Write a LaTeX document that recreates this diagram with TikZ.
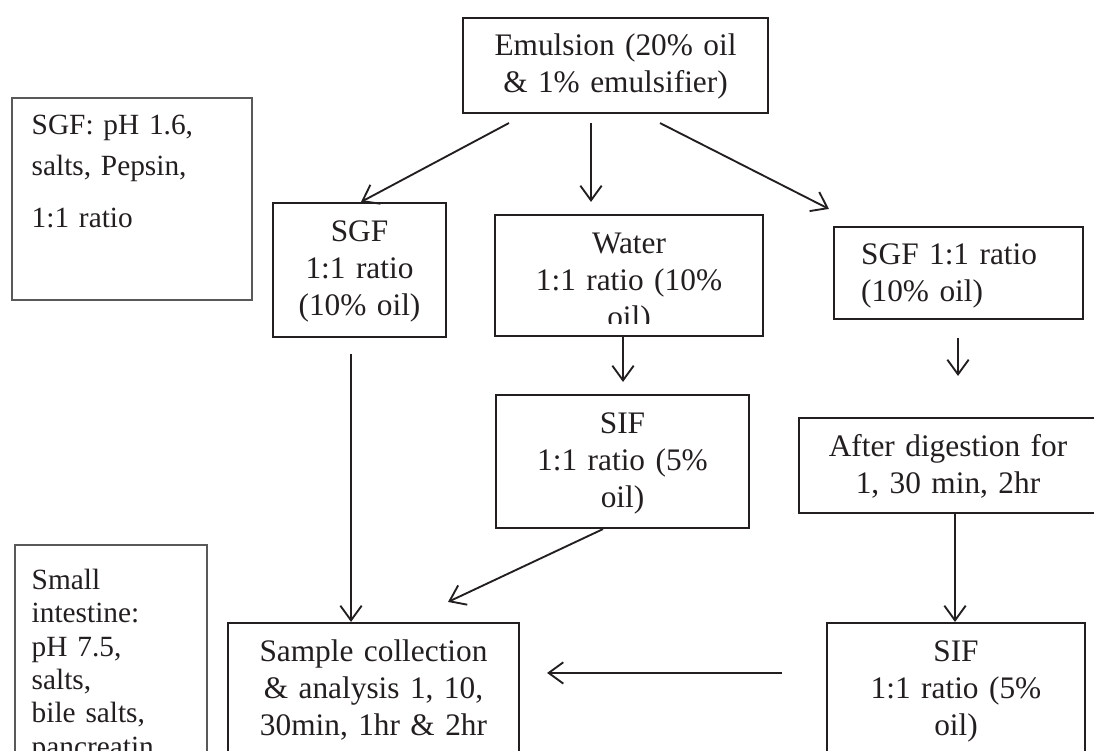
\documentclass[tikz,border=0pt]{standalone}
\usepackage{fontspec}
\setmainfont{Liberation Serif}
\usetikzlibrary{calc,fit,arrows.meta}
\definecolor{ink}{RGB}{35,31,32}
\newcommand\boxfont{\fontsize{23.5}{27.6}\selectfont}
\newcommand\legfont{\fontsize{22}{25}\selectfont}

\begin{document}
\begin{tikzpicture}[x=0.75pt, y=-0.75pt,
    box/.style={draw=ink, line width=1.6pt, inner sep=0pt},
    legbox/.style={draw=gray!70!black, line width=0.8pt, inner sep=0pt},
    txt/.style={text=ink, inner sep=0pt, font=\boxfont, text width=250pt, align=center, anchor=base},
    legtxt/.style={text=ink, inner sep=0pt, font=\legfont, text width=165pt, align=left, anchor=base west},
    arr/.style={draw=ink, line width=1.4pt, -{Straight Barb[length=11pt,width=16pt,line width=1.4pt]}}]

    % Page
    \useasboundingbox[fill=white] (0,0) rectangle (1094,750);
    \clip (0,0) rectangle (1094,750);

    % Boxes
    \node[legbox, fit={(12,98) (252,300)}] (sgfnote) {};
    \node[legbox, fit={(15,545) (207,770)}] (sinote) {};
    \node[box, fit={(463,18) (768,113)}] (emul) {};
    \node[box, fit={(273,203) (446,337)}] (sgf) {};
    \node[box, fit={(495,215) (763,336)}] (water) {};
    \node[box, fit={(834,227) (1083,319)}] (sgfr) {};
    \node[box, fit={(496,395) (749,528)}] (sifm) {};
    \node[box, fit={(799,418) (1097,513)}] (dig) {};
    \node[box, fit={(228,623) (519,770)}] (smp) {};
    \node[box, fit={(827,623) (1085,770)}] (sifr) {};

    % Side notes
    \node[legtxt, font=\fontsize{22}{30.75}\selectfont] (sgfnotet) at ($(sgfnote.north west)+(20,37)$)
        {SGF: pH 1.6,\\ salts, Pepsin,\\[8pt] 1:1 ratio};
    \node[legtxt] (sinotet) at ($(sinote.north west)+(17,45)$)
        {Small\\ intestine:\\ pH 7.5,\\ salts,\\ bile salts,\\ pancreatin};

    % Box texts
    \node[txt] (emult) at ($(emul.north)+(0,39)$) {Emulsion (20\% oil\\ \& 1\% emulsifier)};
    \node[txt] (sgft) at ($(sgf.north)+(0,40)$) {SGF\\ 1:1 ratio\\ (10\% oil)};
    \begin{scope}
        \clip (water.north west) rectangle ($(water.south east)+(0,-14)$);
        \node[txt] (watert) at ($(water.north)+(0,40)$) {Water\\ 1:1 ratio (10\%\\ oil)};
    \end{scope}
    \node[txt, text width=180pt, align=left, anchor=base west] (sgfrt) at ($(sgfr.north west)+(28,39)$)
        {SGF 1:1 ratio\\ (10\% oil)};
    \node[txt] (sifmt) at ($(sifm.north)+(0,40)$) {SIF\\ 1:1 ratio (5\%\\ oil)};
    \node[txt] (digt) at ($(dig.north)+(0,40)$) {After digestion for\\ 1, 30 min, 2hr};
    \node[txt] (smpt) at ($(smp.north)+(0,40)$) {Sample collection\\ \& analysis 1, 10,\\ 30min, 1hr \& 2hr};
    \node[txt] (sifrt) at ($(sifr.north)+(0,40)$) {SIF\\ 1:1 ratio (5\%\\ oil)};

    % Arrows
    \draw[arr] ($(emul.south west)+(47,9)$) -- ($(sgf.north)+(1.5,0)$);
    \draw[arr] ($(emul.south)+(-24.5,9)$) -- ($(water.north)+(-38,-12)$);
    \draw[arr] ($(emul.south)+(44.5,9)$) -- ($(sgfr.north west)+(-4,-17)$);
    \draw[arr] ($(water.south)+(-6,0)$) -- ($(sifm.north)+(0.5,-12)$);
    \draw[arr] ($(sgf.south)+(-8.5,16)$) -- ($(smp.north)+(-22.5,0)$);
    \draw[arr] ($(sifm.south)+(-19.5,0)$) -- ($(smp.north)+(74.5,-20)$);
    \draw[arr] ($(sifr.north west)+(-44,51)$) -- ($(smp.north east)+(27,51)$);
    \draw[arr] ($(sgfr.south)+(-0.5,18)$) -- ($(dig.north)+(10,-41)$);
    \draw[arr] ($(dig.south)+(7,0)$) -- ($(sifr.north)+(-1,0)$);

\end{tikzpicture}
\end{document}
